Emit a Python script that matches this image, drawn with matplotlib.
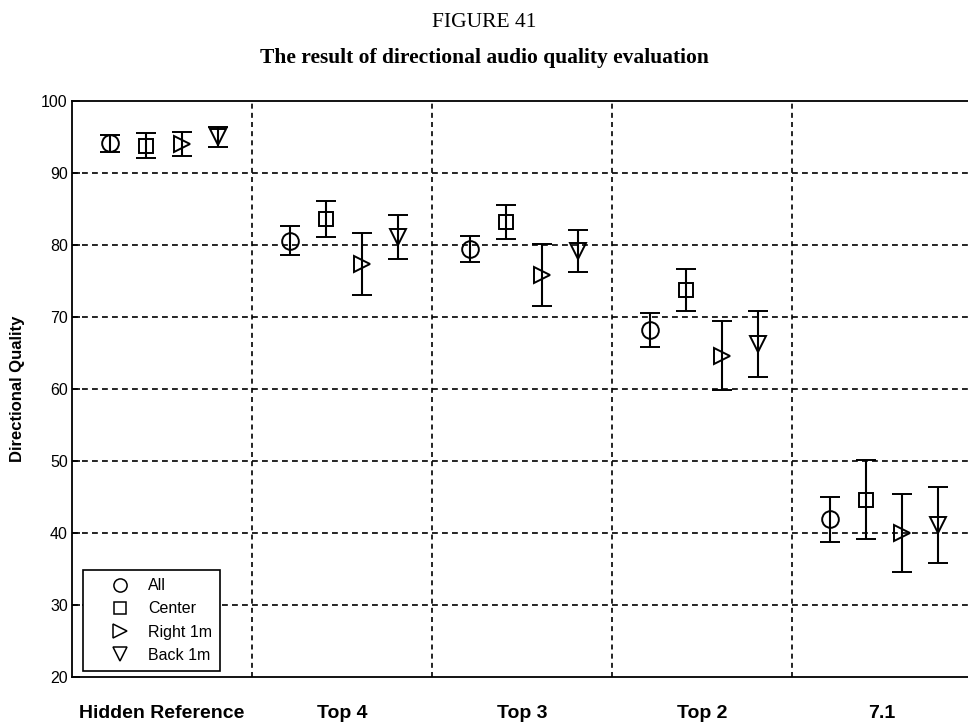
import matplotlib
matplotlib.use("Agg")
import matplotlib.pyplot as plt
import numpy as np

categories = ["Hidden Reference", "Top 4", "Top 3", "Top 2", "7.1"]
series_names = ["All", "Center", "Right 1m", "Back 1m"]
means = {
    "All":      [94.1, 80.6, 79.5, 68.2, 41.9],
    "Center":   [93.8, 83.6, 83.2, 73.8, 44.6],
    "Right 1m": [94.0, 77.4, 75.8, 64.6, 40.0],
    "Back 1m":  [95.0, 81.1, 79.2, 66.2, 41.1],
}
errors = {
    "All":      [1.2, 2.0, 1.8, 2.4, 3.1],
    "Center":   [1.7, 2.5, 2.4, 2.9, 5.5],
    "Right 1m": [1.7, 4.3, 4.3, 4.8, 5.4],
    "Back 1m":  [1.4, 3.1, 2.9, 4.6, 5.3],
}
markers = {"All": "o", "Center": "s", "Right 1m": ">", "Back 1m": "v"}
msizes = {"All": 12, "Center": 9.5, "Right 1m": 12, "Back 1m": 12}
leg_sizes = {"All": 9.5, "Center": 8.5, "Right 1m": 10, "Back 1m": 10}
offsets = [-0.29, -0.09, 0.11, 0.31]
y_ticks = [20, 30, 40, 50, 60, 70, 80, 90, 100]

fig = plt.figure(figsize=(9.68, 7.27), dpi=100)
ax = fig.add_axes([72/968, 50/727, 900/968, 576/727])

x = np.arange(len(categories))
handles = []
for name, off in zip(series_names, offsets):
    ax.errorbar(x + off, means[name], yerr=errors[name], fmt=markers[name],
                ms=msizes[name], mfc="none", mec="black", mew=1.4,
                ecolor="black", elinewidth=1.5, capsize=7, capthick=1.5,
                color="black", zorder=3)
    h, = ax.plot([], [], markers[name], ms=leg_sizes[name], mfc="none",
                 mec="black", mew=1.1, label=name)
    handles.append(h)

ax.set_xlim(-0.5, 4.5)
ax.set_ylim(20, 100)
ax.set_yticks(y_ticks)
ax.set_yticklabels([str(t) for t in y_ticks], fontsize=11.5, family="Liberation Sans")
ax.set_xticks(x)
ax.set_xticklabels(categories, fontsize=14, fontweight="bold", family="Liberation Sans")
ax.tick_params(axis="x", length=0, pad=20)
ax.tick_params(axis="y", direction="in", length=6, width=1.2, pad=3)

for yv in y_ticks[1:-1]:
    ax.axhline(yv, color="black", lw=1.2, ls=(0, (3.5, 2.5)), zorder=1)
for xv in [0.5, 1.5, 2.5, 3.5]:
    ax.axvline(xv, color="black", lw=1.2, ls=(0, (3, 2.5)), zorder=1)

for s in ["left", "top", "bottom"]:
    ax.spines[s].set_linewidth(1.3)
ax.spines["right"].set_visible(False)

ax.set_ylabel("Directional Quality", fontsize=12, fontweight="bold",
              family="Liberation Sans")
ax.yaxis.set_label_coords(-0.052, 0.5)

leg = ax.legend(handles=handles, loc="lower left", bbox_to_anchor=(0.0122, 0.0104),
                frameon=True, fancybox=False, edgecolor="black", framealpha=1.0,
                prop={"family": "Liberation Sans", "size": 11.5},
                handlelength=3.6, handletextpad=0.0, borderpad=0.5,
                labelspacing=0.52, borderaxespad=0.0)
leg.get_frame().set_linewidth(1.2)
leg.set_zorder(5)

fig.text(0.5, 1 - 27/727, "FIGURE 41", ha="center", va="baseline",
         fontsize=15.5, family="Liberation Serif")
fig.text(0.5, 1 - 63/727, "The result of directional audio quality evaluation",
         ha="center", va="baseline", fontsize=15.5, fontweight="bold",
         family="Liberation Serif")

fig.savefig("out.png", dpi=100)
